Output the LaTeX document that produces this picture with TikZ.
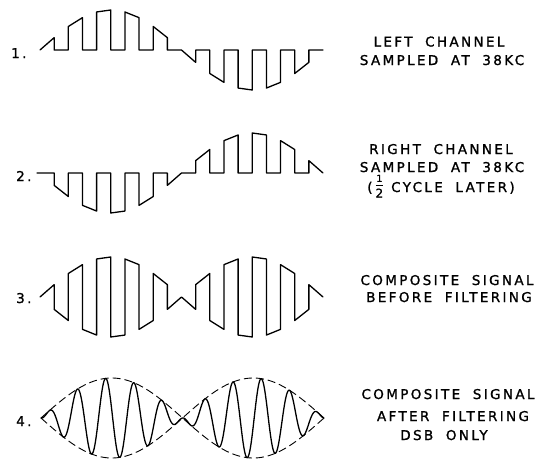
\documentclass[tikz,border=0pt]{standalone}
\usepackage{fontspec}
\newfontfamily\lbl[LetterSpace=17.5,WordSpace=1.9,FakeBold=1.2]{DejaVu Sans}
\newcommand{\halffrac}{\raisebox{-5.5pt}{\shortstack{{\fontsize{9.5}{9.5}\selectfont 1}\\\rule{7pt}{0.8pt}\\{\fontsize{12}{12}\selectfont 2}}}}
\begin{document}
\begin{tikzpicture}[x=1pt,y=-1pt,
  wave/.style={line width=1.3pt,line join=round,line cap=round},
  env/.style={line width=0.9pt,dash pattern=on 8pt off 4pt},
  lab/.style={font=\lbl\fontsize{13.5}{15}\selectfont,inner sep=0pt,anchor=base},
  num/.style={font=\lbl\fontsize{13.5}{15}\selectfont,inner sep=0pt,anchor=base west}]
\useasboundingbox[fill=white] (0,0) rectangle (537,458);

% 1. left channel sampled
\draw[wave] (40,50) \foreach \k in {0,...,9}{
  -- ({40+28.3*\k},{50-40*sin(36*\k)})
  -- ({54.15+28.3*\k},{50-40*sin(36*\k+18)})
  -- ({54.15+28.3*\k},50)
  -- ({68.3+28.3*\k},50)
};
% 2. right channel sampled
\draw[wave] (37,173) \foreach \k in {0,...,9}{
  -- ({54.15+28.3*\k},173)
  -- ({54.15+28.3*\k},{173+40*sin(36*\k+18)})
  -- ({68.3+28.3*\k},{173+40*sin(36*\k+36)})
  -- ({68.3+28.3*\k},173)
};
% 3. composite before filtering
\draw[wave] (40,297) \foreach \k in {0,...,9}{
  -- ({40+28.3*\k},{297-40*sin(36*\k)})
  -- ({54.15+28.3*\k},{297-40*sin(36*\k+18)})
  -- ({54.15+28.3*\k},{297+40*sin(36*\k+18)})
  -- ({68.3+28.3*\k},{297+40*sin(36*\k+36)})
};
% 4. composite after filtering
\draw[env] plot[domain=41:324,samples=150,smooth] (\x,{418-40*sin(1.272085*(\x-41))});
\draw[env] plot[domain=41:324,samples=150,smooth] (\x,{418+40*sin(1.272085*(\x-41))});
\draw[wave] plot[domain=41:324,samples=600] (\x,{418-40*sin(1.272085*(\x-41))*cos(12.72085*(\x-49))});

% numbers
\node[num] (n1) at (11,58) {1.};
\node[num] (n2) at (16,181) {2.};
\node[num] (n3) at (16,303) {3.};
\node[num] (n4) at (16,426) {4.};

% labels
\node[lab] (a1) at (439,46.5) {LEFT CHANNEL};
\node[lab] (a2) at (442,65) {SAMPLED AT 38KC};
\node[lab] (b1) at (441,154) {RIGHT CHANNEL};
\node[lab] (b2) at (442,172) {SAMPLED AT 38KC};
\node[lab] (b3) at (441,192) {(\kern3pt\halffrac\kern8pt CYCLE LATER)};
\node[lab] (c1) at (447,285) {COMPOSITE SIGNAL};
\node[lab] (c2) at (449,302) {BEFORE FILTERING};
\node[lab] (d1) at (448,399) {COMPOSITE SIGNAL};
\node[lab] (d2) at (453,421) {AFTER FILTERING};
\node[lab] (d3) at (444,440) {DSB ONLY};
\end{tikzpicture}
\end{document}
